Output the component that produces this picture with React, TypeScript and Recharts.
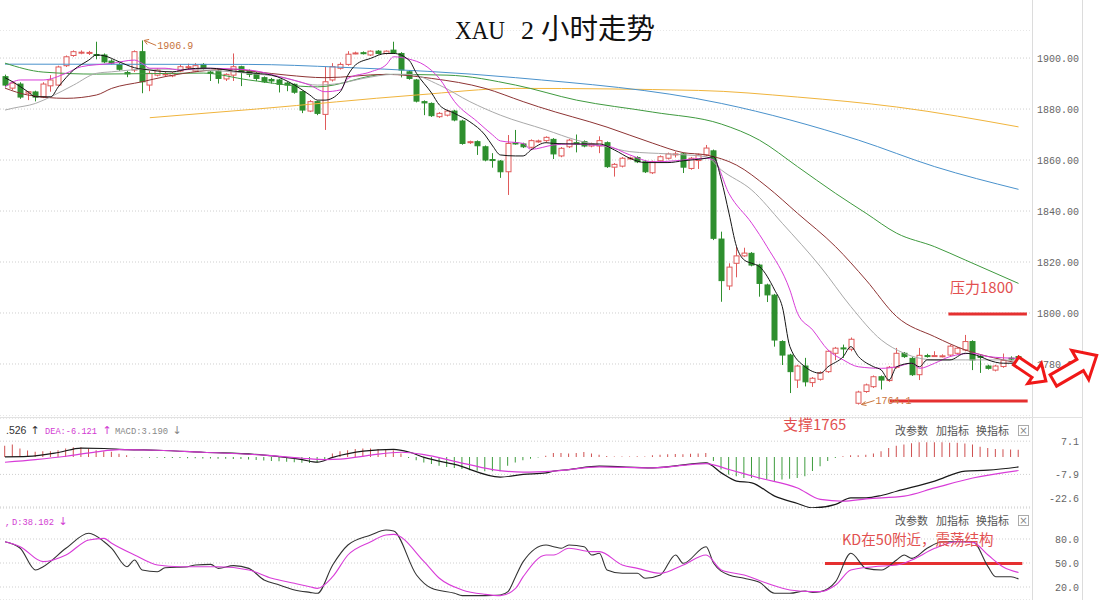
import React from 'react';
import { Bar, CartesianGrid, Cell, ComposedChart, Line, ReferenceLine, XAxis, YAxis } from 'recharts';

// 2h candles (index 0 = left-most)
const opens = [
  1892.7, 1888.2, 1889.8, 1886.2, 1886.7, 1884.7, 1889.1, 1889.4, 1897.0, 1901.0,
  1902.2, 1902.0, 1901.4, 1901.2, 1898.8, 1897.5, 1894.3, 1895.3, 1902.5, 1889.4,
  1893.3, 1893.5, 1893.0, 1894.9, 1896.4, 1894.9, 1897.5, 1894.5, 1894.9, 1891.8,
  1893.3, 1896.6, 1894.9, 1894.0, 1892.3, 1891.6, 1891.4, 1890.2, 1889.7, 1886.8,
  1879.2, 1882.9, 1877.9, 1891.4, 1896.0, 1897.5, 1901.9, 1902.1, 1901.2, 1902.7,
  1901.8, 1903.1, 1901.8, 1894.6, 1891.4, 1882.9, 1882.2, 1877.0, 1877.6, 1879.2,
  1875.3, 1866.8, 1867.2, 1865.2, 1860.2, 1859.6, 1855.4, 1866.7, 1866.3, 1865.0,
  1867.3, 1867.6, 1868.1, 1861.6, 1865.2, 1866.8, 1867.2, 1865.5, 1865.5, 1866.8,
  1857.2, 1857.6, 1860.6, 1861.0, 1859.3, 1855.0, 1859.7, 1860.7, 1862.2, 1862.4,
  1856.7, 1859.8, 1862.0, 1863.6, 1829.0, 1810.6, 1819.5, 1822.4, 1823.4, 1818.8,
  1811.0, 1807.0, 1788.8, 1783.5, 1773.7, 1779.2, 1772.7, 1774.0, 1777.0, 1784.2,
  1786.3, 1785.8, 1764.6, 1769.2, 1771.1, 1775.0, 1773.5, 1778.7, 1784.2, 1782.2,
  1775.8, 1783.3, 1783.1, 1783.2, 1783.5, 1784.2, 1785.5, 1788.8, 1783.0, 1779.2,
  1777.6, 1779.0, 1782.3, 1782.9,
];
const highs = [
  1893.5, 1891.0, 1890.5, 1887.0, 1887.2, 1890.5, 1893.3, 1897.0, 1901.0, 1903.0,
  1903.0, 1902.8, 1906.4, 1901.8, 1899.5, 1898.0, 1895.0, 1903.0, 1906.9, 1895.0,
  1896.0, 1894.5, 1894.5, 1897.5, 1897.8, 1898.0, 1898.0, 1895.0, 1895.5, 1894.0,
  1901.8, 1897.0, 1895.5, 1894.5, 1892.8, 1892.2, 1891.8, 1890.6, 1890.0, 1887.2,
  1883.5, 1883.3, 1896.6, 1898.0, 1898.3, 1902.7, 1902.5, 1902.6, 1903.0, 1903.1,
  1903.0, 1906.4, 1902.3, 1895.3, 1891.8, 1883.4, 1882.6, 1878.8, 1879.7, 1879.7,
  1875.8, 1867.6, 1867.7, 1865.7, 1862.7, 1860.0, 1869.8, 1871.8, 1866.8, 1868.1,
  1868.0, 1869.3, 1868.6, 1865.1, 1868.3, 1870.0, 1867.7, 1866.8, 1869.3, 1867.3,
  1858.8, 1861.2, 1861.3, 1861.5, 1859.8, 1859.8, 1861.8, 1862.9, 1863.3, 1862.9,
  1861.2, 1862.5, 1865.9, 1864.1, 1831.9, 1819.5, 1826.0, 1825.6, 1823.9, 1819.3,
  1811.5, 1807.5, 1789.3, 1784.0, 1779.7, 1782.4, 1774.9, 1777.1, 1785.5, 1786.7,
  1787.6, 1790.4, 1769.5, 1772.3, 1775.5, 1775.5, 1779.2, 1786.3, 1784.7, 1782.7,
  1786.3, 1784.0, 1785.0, 1783.8, 1787.5, 1786.7, 1791.4, 1789.3, 1783.5, 1779.7,
  1779.7, 1784.1, 1783.0, 1783.5,
];
const lows = [
  1888.5, 1887.5, 1884.0, 1883.5, 1883.0, 1884.3, 1886.8, 1889.0, 1896.5, 1900.5,
  1901.5, 1901.2, 1899.5, 1898.0, 1897.5, 1895.0, 1892.5, 1894.5, 1886.2, 1887.0,
  1892.8, 1892.8, 1892.5, 1894.5, 1895.5, 1894.5, 1895.5, 1891.0, 1890.0, 1891.0,
  1891.0, 1889.0, 1892.5, 1891.0, 1890.2, 1890.0, 1886.5, 1887.0, 1886.0, 1878.4,
  1878.8, 1877.6, 1871.8, 1890.8, 1895.5, 1897.0, 1901.5, 1901.4, 1900.8, 1901.4,
  1901.4, 1901.6, 1892.4, 1891.5, 1882.6, 1877.6, 1876.9, 1876.5, 1877.1, 1875.2,
  1866.0, 1866.3, 1862.0, 1859.5, 1857.0, 1853.0, 1846.3, 1866.0, 1864.7, 1864.5,
  1866.8, 1867.1, 1860.4, 1861.1, 1864.7, 1863.0, 1865.0, 1865.0, 1862.7, 1856.9,
  1853.5, 1857.1, 1860.2, 1858.8, 1854.9, 1854.5, 1859.2, 1860.2, 1861.0, 1854.9,
  1856.2, 1856.5, 1861.5, 1828.6, 1804.4, 1809.0, 1814.0, 1822.0, 1818.3, 1806.4,
  1804.3, 1786.8, 1779.6, 1768.6, 1770.6, 1771.2, 1771.0, 1773.5, 1776.5, 1781.5,
  1782.4, 1785.0, 1764.1, 1768.7, 1770.6, 1770.0, 1773.0, 1778.2, 1782.4, 1775.3,
  1773.7, 1782.5, 1782.8, 1782.6, 1783.0, 1783.7, 1785.0, 1777.6, 1776.5, 1777.8,
  1777.1, 1778.5, 1781.5, 1781.0,
];
const closes = [
  1889.4, 1890.2, 1884.7, 1886.8, 1884.7, 1889.8, 1891.4, 1896.5, 1900.5, 1902.5,
  1902.3, 1902.2, 1901.2, 1898.5, 1898.0, 1895.6, 1893.8, 1902.5, 1890.7, 1894.0,
  1895.3, 1893.8, 1894.0, 1896.6, 1896.6, 1897.0, 1896.0, 1894.0, 1892.0, 1893.6,
  1896.6, 1894.4, 1893.6, 1892.0, 1890.7, 1891.0, 1889.7, 1889.4, 1886.6, 1879.6,
  1882.9, 1878.3, 1890.7, 1896.6, 1897.5, 1901.5, 1902.0, 1901.9, 1902.7, 1901.8,
  1902.7, 1902.0, 1895.3, 1892.0, 1883.1, 1882.4, 1877.4, 1878.3, 1879.2, 1875.7,
  1866.5, 1867.2, 1865.6, 1860.0, 1859.8, 1855.4, 1866.5, 1866.4, 1865.2, 1867.6,
  1867.5, 1868.9, 1862.4, 1864.6, 1867.8, 1866.6, 1865.5, 1866.3, 1867.6, 1857.4,
  1858.3, 1860.7, 1860.8, 1859.3, 1855.4, 1859.3, 1861.3, 1862.4, 1862.4, 1857.2,
  1860.7, 1862.0, 1864.7, 1829.3, 1812.7, 1818.0, 1822.4, 1823.5, 1818.8, 1811.6,
  1807.1, 1789.4, 1783.5, 1777.0, 1779.2, 1773.0, 1774.4, 1776.6, 1785.0, 1786.2,
  1786.0, 1789.7, 1769.0, 1771.8, 1775.0, 1773.7, 1778.7, 1784.2, 1782.9, 1775.8,
  1783.4, 1783.1, 1783.3, 1783.2, 1787.0, 1786.2, 1788.8, 1781.6, 1782.6, 1778.3,
  1779.2, 1781.4, 1782.2, 1782.8,
];

// moving averages, sampled where the curves could be read: [candle index, price]
const ma5: [number, number][] = [
  [0, 1892.3], [1, 1890.7], [3, 1886.8], [4, 1884.8], [6, 1884.8], [7, 1888.7], [9, 1895.3], [11, 1899.2],
  [12, 1901.2], [13, 1900.9], [15, 1898.5], [17, 1896.2], [19, 1895.3], [20, 1894.9], [22, 1894.6], [24, 1895.7],
  [26, 1896.0], [27, 1896.0], [30, 1894.9], [33, 1894.0], [35, 1893.3], [38, 1889.4], [40, 1885.5], [41, 1883.5],
  [42, 1883.5], [44, 1886.8], [45, 1893.3], [46, 1897.3], [48, 1899.9], [50, 1901.8], [51, 1901.8], [53, 1899.2],
  [54, 1894.0], [56, 1886.2], [57, 1881.6], [59, 1878.3], [61, 1875.0], [63, 1869.8], [64, 1865.5], [65, 1862.0],
  [67, 1861.6], [68, 1861.6], [69, 1863.9], [71, 1866.8], [72, 1866.5], [75, 1866.3], [78, 1866.3], [80, 1863.9],
  [82, 1860.7], [84, 1859.0], [87, 1859.0], [89, 1859.7], [92, 1860.7], [93, 1861.3], [94, 1852.2], [95, 1839.2],
  [96, 1826.0], [97, 1820.8], [98, 1819.5], [99, 1818.2], [101, 1809.0], [102, 1802.5], [103, 1786.8], [105, 1778.9],
  [107, 1776.4], [108, 1778.9], [110, 1782.9], [111, 1786.8], [112, 1782.9], [114, 1778.9], [115, 1777.6], [116, 1773.7],
  [117, 1778.9], [119, 1780.3], [120, 1778.9], [121, 1781.6], [124, 1781.6], [126, 1784.2], [128, 1782.9], [129, 1781.6],
  [131, 1780.3], [133, 1780.3],
];
const ma10: [number, number][] = [
  [0, 1888.7], [2, 1891.4], [5, 1891.4], [8, 1894.0], [10, 1896.6], [14, 1897.9], [17, 1899.2], [18, 1897.9],
  [19, 1896.0], [21, 1896.0], [23, 1895.3], [26, 1896.0], [30, 1895.7], [33, 1894.9], [36, 1892.7], [40, 1889.4],
  [42, 1886.8], [44, 1887.5], [45, 1892.0], [48, 1894.6], [50, 1897.3], [51, 1900.5], [53, 1899.6], [55, 1897.3],
  [57, 1892.0], [59, 1882.9], [62, 1875.0], [64, 1869.8], [65, 1867.5], [68, 1866.5], [69, 1864.2], [72, 1865.9],
  [74, 1866.3], [77, 1865.9], [79, 1865.5], [82, 1862.0], [85, 1859.3], [88, 1859.7], [90, 1860.3], [92, 1860.7],
  [93, 1860.0], [95, 1846.9], [98, 1835.2], [100, 1826.0], [103, 1809.0], [104, 1799.9], [106, 1793.3], [108, 1785.5],
  [110, 1781.6], [112, 1778.9], [115, 1778.3], [117, 1778.9], [119, 1780.3], [120, 1778.3], [122, 1780.3], [124, 1782.9],
  [127, 1784.2], [129, 1782.9], [133, 1782.2],
];
const ma20: [number, number][] = [
  [0, 1879.6], [1, 1880.3], [4, 1882.2], [6, 1884.8], [9, 1889.4], [12, 1894.0], [14, 1894.6], [19, 1895.7],
  [26, 1895.3], [32, 1894.0], [36, 1892.7], [41, 1889.4], [44, 1890.1], [47, 1892.0], [51, 1893.6], [53, 1893.6],
  [57, 1889.4], [61, 1882.9], [65, 1877.6], [71, 1871.8], [75, 1867.8], [79, 1865.2], [82, 1863.3], [87, 1862.4],
  [92, 1861.3], [94, 1856.1], [98, 1848.2], [102, 1835.2], [107, 1818.2], [111, 1802.5], [115, 1789.4], [118, 1784.2],
  [122, 1781.6], [126, 1781.6], [131, 1781.6], [133, 1780.9],
];
const ma30: [number, number][] = [
  [0, 1888.2], [3, 1885.5], [8, 1884.2], [12, 1885.5], [14, 1888.1], [18, 1890.7], [21, 1892.7], [30, 1895.6],
  [33, 1894.6], [37, 1893.3], [42, 1892.3], [50, 1893.6], [56, 1892.0], [63, 1888.1], [68, 1882.9], [70, 1880.9],
  [79, 1872.9], [85, 1866.6], [89, 1862.9], [92, 1862.0], [96, 1858.0], [100, 1849.5], [104, 1839.1], [109, 1826.0],
  [113, 1812.9], [117, 1798.6], [122, 1790.7], [126, 1785.5], [131, 1781.6], [133, 1780.3],
];
const ma60: [number, number][] = [
  [0, 1898.0], [5, 1894.5], [12, 1893.7], [26, 1894.1], [32, 1891.4], [41, 1888.7], [50, 1893.6], [58, 1893.3],
  [67, 1889.4], [75, 1883.5], [85, 1878.8], [94, 1874.1], [99, 1867.8], [104, 1857.4], [109, 1846.9], [113, 1839.1],
  [117, 1831.3], [122, 1826.0], [126, 1820.8], [133, 1811.6],
];
const ma120: [number, number][] = [
  [0, 1897.6], [32, 1897.5], [44, 1896.4], [67, 1892.3], [94, 1882.2], [112, 1867.8], [122, 1857.4], [133, 1848.5],
];
const ma250: [number, number][] = [
  [19, 1876.6], [33, 1880.0], [54, 1885.5], [67, 1888.1], [91, 1887.3], [104, 1884.7], [117, 1880.8], [133, 1873.0],
];

const highMark: [number, number] = [18, 1906.9];
const lowMark: [number, number] = [112, 1764.1];
const resistLevel = 1799.6;
const supportLevel = 1765.5;

// MACD histogram, one bar per candle
const macdHist = [
  5.0, 5.6, 3.8, 2.9, 2.3, 2.6, 2.6, 3.0, 3.8, 4.4,
  4.4, 3.8, 3.0, 2.6, 2.3, 1.4, 0.8, -0.2, -0.3, -0.4,
  -0.4, -0.5, -0.5, -0.5, -0.6, -0.6, -0.7, -0.7, -0.8, -0.8,
  -0.9, -1.0, -1.2, -1.4, -1.6, -1.8, -2.0, -2.2, -2.4, -2.6,
  -2.7, -2.5, -1.5, 1.5, 2.6, 3.0, 3.6, 3.8, 3.8, 3.6,
  3.3, 3.0, 1.5, -0.5, -1.5, -2.5, -3.2, -4.0, -4.5, -5.0,
  -5.5, -6.0, -6.3, -6.5, -6.5, -6.5, -4.0, -2.5, -1.5, -0.8,
  -0.3, 0.5, 1.8, 1.8, 1.5, 1.8, 2.2, 1.5, 1.0, 0.4,
  0.2, 0.2, 0.2, 0.3, 0.2, 0.8, 1.0, 1.2, 1.3, 1.2,
  1.4, 1.5, 1.8, -1.9, -5.7, -7.9, -8.7, -9.5, -9.5, -10.2,
  -10.2, -10.9, -10.2, -9.8, -9.5, -8.7, -6.4, -4.2, -1.9, -0.5,
  0.3, 0.8, 0.8, 1.0, 1.5, 2.5, 4.0, 5.0, 5.6, 6.2,
  6.6, 6.6, 6.6, 6.6, 6.4, 6.4, 6.0, 5.6, 4.6, 4.0,
  3.6, 3.4, 3.3, 3.19,
];
const difPts: [number, number][] = [
  [0, 0], [3, 0.2], [7, 2.0], [10, 4.0], [13, 3.8], [16, 3.3], [20, 3.0], [26, 2.1], [34, 0.8], [39, -1.2],
  [41, -2.4], [43, -0.2], [47, 2.6], [51, 3.4], [53, 2.2], [55, -0.2], [59, -3.4], [65, -9.1],
  [68, -7.9], [71, -7.2], [72, -6.4], [74, -5.7], [78, -4.2], [85, -4.95], [92, -2.7], [94, -7.2], [96, -10.9],
  [98, -11.7], [101, -17.7], [104, -21.0], [106, -23.0], [109, -21.4], [111, -18.5], [113, -18.5], [115, -17.4],
  [117, -15.5], [122, -10.9], [126, -6.4], [129, -6.0], [133, -4.53],
];
const deaPts: [number, number][] = [
  [0, -2.4], [4, -1.2], [8, 0.3], [12, 2.3], [15, 3.3], [20, 3.0], [26, 2.1], [34, 0.8], [39, -0.6], [42, -1.2],
  [44, -1.0], [48, 0.8], [52, 2.1], [55, 1.0], [59, -2.0], [64, -5.7], [68, -6.9], [72, -6.4],
  [78, -4.5], [85, -4.95], [92, -3.0], [95, -5.7], [99, -9.5], [104, -14.0], [107, -19.2], [110, -20.0],
  [113, -18.9], [118, -17.7], [122, -14.0], [127, -9.5], [133, -6.12],
];

// KD oscillator
const kPts: [number, number][] = [
  [0, 76.6], [2, 68.4], [4, 41.3], [5, 45.4], [8, 68.4], [11, 87.1], [13, 76.6], [14, 68.4], [16, 45.4], [17, 53.8],
  [18, 41.3], [20, 39.1], [21, 44.1], [24, 45.4], [25, 47.5], [27, 48.3], [28, 43.3], [30, 46.7], [32, 43.3],
  [34, 28.8], [36, 22.5], [38, 16.3], [40, 13.3], [41, 12.1], [43, 47.5], [45, 72.5], [48, 85], [50, 91.3], [51, 90],
  [54, 35], [56, 18.3], [59, 12.1], [60, 9.2], [63, 9.2], [65, 10], [66, 14.2], [67, 32.9], [68, 51.7], [71, 72.5],
  [72, 70.4], [73, 68.4], [74, 72.5], [76, 70.4], [77, 60], [78, 62.1], [79, 41.3], [81, 37.1], [83, 37.1], [84, 30.9],
  [86, 35], [88, 60], [89, 49.6], [92, 70.4], [93, 49.6], [95, 35], [97, 30.9], [99, 25.8], [101, 12.1], [103, 12.1],
  [105, 15], [106, 13.3], [107, 14.2], [109, 26.7], [111, 62.1], [113, 43.3], [115, 41.3], [117, 53.8], [118, 60],
  [119, 55.8], [121, 68.4], [123, 76.6], [125, 76.6], [127, 76.6], [129, 45.4], [130, 32.9], [132, 32.9], [133, 30],
];
const dPts: [number, number][] = [
  [0, 76.6], [2, 70.4], [5, 51.7], [8, 60], [11, 78.8], [13, 80.8], [14, 74.6], [17, 60], [20, 47.5], [23, 45.4],
  [25, 45.4], [28, 45.4], [32, 41.3], [35, 30.9], [38, 24.6], [40, 20.4], [41, 18.3], [43, 32.9], [45, 60], [48, 76.6],
  [50, 85], [51, 85.8], [55, 51.7], [57, 30.9], [60, 16.3], [63, 10.8], [65, 9.2], [67, 18.3], [68, 32.9], [71, 60],
  [72, 60], [74, 68.4], [77, 64.2], [78, 64.2], [81, 47.5], [83, 43.3], [86, 37.1], [89, 47.5], [92, 60], [94, 41.3],
  [97, 35], [100, 24.6], [103, 16.3], [106, 14.2], [107, 14.2], [109, 22.5], [111, 41.3], [114, 45.4], [117, 47.5],
  [119, 53.8], [122, 68.4], [125, 76.6], [127, 75.8], [129, 60], [131, 45], [133, 38.1],
];
const kdLevel = 49.5;

const priceTicks = [1780, 1800, 1820, 1840, 1860, 1880, 1900];
const macdTicks = [-22.6, -7.9, 7.1];
const kdTicks = [20, 50, 80];

const UP = '#e05a5a';
const DOWN = '#2e8f2e';
const X_DOMAIN = [-0.656, 134.9];
const AXIS_FONT = "'Liberation Mono', monospace";
const CJK = "'Noto Sans CJK SC', sans-serif";

function fill(rows: any[], pts: [number, number][], key: string) {
  pts.forEach(([i, v]) => {
    rows[i][key] = v;
  });
}

const mainRows: any[] = opens.map((o, i) => ({ i, o, h: highs[i], l: lows[i], c: closes[i] }));
fill(mainRows, ma5, 'ma5');
fill(mainRows, ma10, 'ma10');
fill(mainRows, ma20, 'ma20');
fill(mainRows, ma30, 'ma30');
fill(mainRows, ma60, 'ma60');
fill(mainRows, ma120, 'ma120');
fill(mainRows, ma250, 'ma250');
fill(mainRows, [highMark, lowMark], 'mark');

const macdRows: any[] = macdHist.map((hist, i) => ({ i, hist }));
fill(macdRows, difPts, 'dif');
fill(macdRows, deaPts, 'dea');

const kdRows: any[] = opens.map((_, i) => ({ i }));
fill(kdRows, kPts, 'k');
fill(kdRows, dPts, 'd');

const maLines = [
  { key: 'ma250', color: '#f0b43c' },
  { key: 'ma120', color: '#4a92cc' },
  { key: 'ma60', color: '#3f9a3f' },
  { key: 'ma30', color: '#8e3434' },
  { key: 'ma20', color: '#a9a9a9' },
  { key: 'ma10', color: '#d83cd8' },
  { key: 'ma5', color: '#151515' },
];

const Candle = (p: any) => {
  const { x, y, width, height, payload } = p;
  if (x == null || y == null || !payload) return <g />;
  const { o, h, l, c } = payload;
  const top = Math.min(y, y + height);
  const span = Math.abs(height);
  const px = (v: number) => (h === l ? top : top + ((h - v) / (h - l)) * span);
  const cx = Math.round(x + width / 2) + 0.5;
  const up = c >= o;
  const col = up ? UP : DOWN;
  const bTop = px(Math.max(o, c));
  const bh = Math.max(1, px(Math.min(o, c)) - bTop);
  return (
    <g>
      <line x1={cx} x2={cx} y1={top} y2={top + span} stroke={col} strokeWidth={1} />
      <rect x={cx - 2.5} y={bTop} width={5} height={bh} fill={up ? '#ffffff' : DOWN} stroke={col} strokeWidth={1} />
    </g>
  );
};

const MarkDot = (p: any) => {
  const { cx, cy, payload, index } = p;
  if (!payload || payload.mark == null || cx == null || cy == null) return <g key={`md${index}`} />;
  const col = '#c8743c';
  const label = payload.mark.toFixed(1);
  if (payload.mark >= payload.h) {
    return (
      <g key={`md${index}`}>
        <line x1={cx + 2} y1={cy} x2={cx + 14} y2={cy + 5} stroke={col} />
        <polyline points={`${cx + 7},${cy - 1} ${cx + 2},${cy} ${cx + 5},${cy + 4}`} fill="none" stroke={col} />
        <text x={cx + 15} y={cy + 9} fontSize={10} fill={col} fontFamily={AXIS_FONT}>{label}</text>
      </g>
    );
  }
  return (
    <g key={`md${index}`}>
      <line x1={cx + 3} y1={cy} x2={cx + 16} y2={cy - 4} stroke={col} />
      <polyline points={`${cx + 7},${cy - 3} ${cx + 3},${cy} ${cx + 8},${cy + 1}`} fill="none" stroke={col} />
      <text x={cx + 17} y={cy - 1} fontSize={10} fill={col} fontFamily={AXIS_FONT}>{label}</text>
    </g>
  );
};

const tickRenderer = (digits: number, lowValue?: number, lowShift?: number) => (p: any) => {
  const v = Number(p.payload.value);
  const shift = lowValue != null && v === lowValue ? lowShift || 0 : 0;
  return (
    <text x={p.x + 46} y={p.y + shift} dy={4} textAnchor="end" fill="#666" fontSize={10} fontFamily={AXIS_FONT}>
      {v.toFixed(digits)}
    </text>
  );
};

const grid = <CartesianGrid vertical={false} stroke="#cfcfcf" strokeDasharray="1 2" />;
const xAxis = <XAxis dataKey="i" type="number" domain={X_DOMAIN} hide allowDataOverflow />;

function MainPanel() {
  return (
    <ComposedChart width={1083} height={386} data={mainRows} margin={{ top: 0, right: 0, bottom: 0, left: 0 }}>
      {grid}
      {xAxis}
      <YAxis
        orientation="right"
        width={50}
        domain={[1759.6, 1911]}
        ticks={priceTicks}
        interval={0}
        allowDataOverflow
        axisLine={false}
        tickLine={false}
        tickSize={0}
        tickMargin={0}
        tick={tickRenderer(2)}
      />
      <Bar dataKey={(d: any) => [d.l, d.h]} barSize={5} shape={(p: any) => <Candle {...p} />} isAnimationActive={false} />
      {maLines.map((m) => (
        <Line
          key={m.key}
          dataKey={m.key}
          type="monotone"
          stroke={m.color}
          strokeWidth={1}
          dot={false}
          activeDot={false}
          connectNulls
          isAnimationActive={false}
        />
      ))}
      <Line dataKey="mark" stroke="none" dot={(p: any) => <MarkDot {...p} />} activeDot={false} isAnimationActive={false} />
      <ReferenceLine segment={[{ x: 123.8, y: resistLevel }, { x: 134.1, y: resistLevel }]} stroke="#e53030" strokeWidth={3} />
      <ReferenceLine segment={[{ x: 116.1, y: supportLevel }, { x: 134.2, y: supportLevel }]} stroke="#e53030" strokeWidth={3} />
    </ComposedChart>
  );
}

function MacdPanel() {
  return (
    <ComposedChart width={1083} height={90} data={macdRows} margin={{ top: 0, right: 0, bottom: 0, left: 0 }}>
      {grid}
      {xAxis}
      <YAxis
        orientation="right"
        width={50}
        domain={[-23.05, 17.55]}
        ticks={macdTicks}
        interval={0}
        allowDataOverflow
        axisLine={false}
        tickLine={false}
        tickSize={0}
        tickMargin={0}
        tick={tickRenderer(1, -22.6, -9)}
      />
      <Bar dataKey="hist" barSize={1} isAnimationActive={false}>
        {macdRows.map((r) => (
          <Cell key={r.i} fill={r.hist >= 0 ? '#cf5050' : '#3e9c3e'} />
        ))}
      </Bar>
      <Line dataKey="dif" type="monotone" stroke="#1a1a1a" strokeWidth={1.2} dot={false} activeDot={false} connectNulls isAnimationActive={false} />
      <Line dataKey="dea" type="monotone" stroke="#d83cd8" strokeWidth={1.2} dot={false} activeDot={false} connectNulls isAnimationActive={false} />
    </ComposedChart>
  );
}

function KdPanel() {
  return (
    <ComposedChart width={1083} height={92} data={kdRows} margin={{ top: 0, right: 0, bottom: 0, left: 0 }}>
      {grid}
      {xAxis}
      <YAxis
        orientation="right"
        width={50}
        domain={[3.75, 118.75]}
        ticks={kdTicks}
        interval={0}
        allowDataOverflow
        axisLine={false}
        tickLine={false}
        tickSize={0}
        tickMargin={0}
        tick={tickRenderer(1)}
      />
      <ReferenceLine segment={[{ x: 107.6, y: kdLevel }, { x: 133.5, y: kdLevel }]} stroke="#e53030" strokeWidth={3} />
      <Line dataKey="k" type="monotone" stroke="#333333" strokeWidth={1.1} dot={false} activeDot={false} connectNulls isAnimationActive={false} />
      <Line dataKey="d" type="monotone" stroke="#d83cd8" strokeWidth={1.1} dot={false} activeDot={false} connectNulls isAnimationActive={false} />
    </ComposedChart>
  );
}

function blockArrow(cx: number, cy: number, len: number, angle: number) {
  const pts = [
    [-0.5, -0.13], [0.12, -0.13], [0.12, -0.34], [0.5, 0], [0.12, 0.34], [0.12, 0.13], [-0.5, 0.13],
  ];
  const a = (angle * Math.PI) / 180;
  return pts
    .map(([u, v]) => {
      const x = u * len;
      const y = v * len;
      return `${(cx + x * Math.cos(a) - y * Math.sin(a)).toFixed(1)},${(cy + x * Math.sin(a) + y * Math.cos(a)).toFixed(1)}`;
    })
    .join(' ');
}

function ToolLinks({ y }: { y: number }) {
  return (
    <g fontFamily={CJK} fontSize={11} fill="#555">
      <text x={895} y={y}>改参数</text>
      <text x={936} y={y}>加指标</text>
      <text x={976} y={y}>换指标</text>
      <rect x={1018.5} y={y - 9.5} width={10} height={10} fill="#fff" stroke="#aaa" />
      <text x={1023.5} y={y - 1} fontSize={10} textAnchor="middle" fill="#888" fontFamily="'DejaVu Sans', sans-serif">×</text>
    </g>
  );
}

function Overlay() {
  return (
    <svg width={1101} height={611} style={{ position: 'absolute', left: 0, top: 0, pointerEvents: 'none' }}>
      <line x1={1032.5} y1={0} x2={1032.5} y2={600} stroke="#dcdcdc" />
      <line x1={1082.5} y1={0} x2={1082.5} y2={600} stroke="#dcdcdc" />
      <line x1={0} y1={417.5} x2={1083} y2={417.5} stroke="#e2e2e2" />

      <text x={455} y={39} fontSize={26} fill="#111" fontFamily="'Liberation Serif', serif" textLength={50} lengthAdjust="spacingAndGlyphs">XAU</text>
      <text x={521} y={39} fontSize={26} fill="#111" fontFamily="'Liberation Serif', serif">2</text>
      <text x={541} y={39} fontSize={28} fill="#111" fontFamily={CJK} textLength={114} lengthAdjust="spacingAndGlyphs">小时走势</text>

      <text x={950} y={293} fontSize={15} fill="#e25050" fontFamily={CJK}>压力1800</text>
      <text x={783} y={430} fontSize={15} fill="#e25050" fontFamily={CJK}>支撑1765</text>
      <text x={842} y={545} fontSize={14.5} fill="#e25050" fontFamily={CJK}>KD在50附近，震荡结构</text>

      <polygon points={blockArrow(1031, 371, 36, 34)} fill="#fff" stroke="#f01818" strokeWidth={3} strokeLinejoin="miter" />
      <polygon points={blockArrow(1075, 368, 50, -30)} fill="#fff" stroke="#f01818" strokeWidth={3} strokeLinejoin="miter" />

      <g fontSize={9} fontFamily={AXIS_FONT}>
        <text x={6} y={434} fill="#333" fontFamily="'Liberation Sans', sans-serif" fontSize={10.5}>.526</text>
        <text x={35} y={434} fill="#333" fontFamily="'DejaVu Sans', sans-serif" fontSize={11} textAnchor="middle">↑</text>
        <text x={45} y={434} fill="#d23cd2" textLength={52} lengthAdjust="spacingAndGlyphs">DEA:-6.121</text>
        <text x={107} y={434} fill="#d23cd2" fontFamily="'DejaVu Sans', sans-serif" fontSize={11} textAnchor="middle">↑</text>
        <text x={115} y={434} fill="#888" textLength={53} lengthAdjust="spacingAndGlyphs">MACD:3.190</text>
        <text x={177} y={434} fill="#888" fontFamily="'DejaVu Sans', sans-serif" fontSize={11} textAnchor="middle">↓</text>
        <text x={5} y={525} fill="#d23cd2">,</text>
        <text x={12} y={525} fill="#d23cd2" textLength={42} lengthAdjust="spacingAndGlyphs">D:38.102</text>
        <text x={63} y={525} fill="#d23cd2" fontFamily="'DejaVu Sans', sans-serif" fontSize={11} textAnchor="middle">↓</text>
      </g>
      <ToolLinks y={435} />
      <ToolLinks y={525} />
    </svg>
  );
}

export default function App() {
  return (
    <div style={{ position: 'absolute', left: 0, top: 0, width: 1101, height: 611, background: '#fff', overflow: 'hidden' }}>
      <div style={{ position: 'absolute', left: 0, top: 30 }}>
        <MainPanel />
      </div>
      <div style={{ position: 'absolute', left: 0, top: 418 }}>
        <MacdPanel />
      </div>
      <div style={{ position: 'absolute', left: 0, top: 508 }}>
        <KdPanel />
      </div>
      <Overlay />
    </div>
  );
}
